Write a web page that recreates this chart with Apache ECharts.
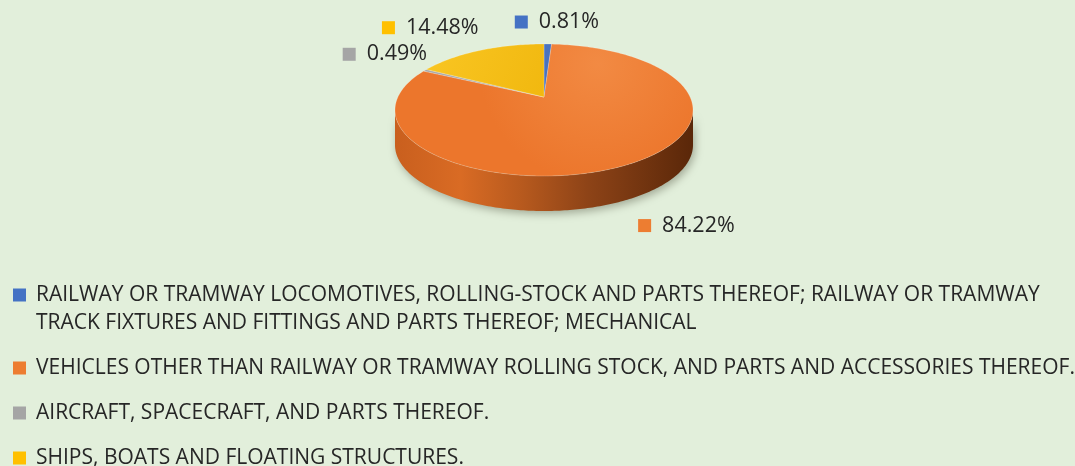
<!DOCTYPE html>
<html>
<head>
<meta charset="UTF-8">
<title>Pie</title>
<script src="https://cdn.jsdelivr.net/npm/echarts@6/dist/echarts.min.js"></script>
<style>
  html, body { margin: 0; padding: 0; background: #e2efdb; }
  #chart { width: 1075px; height: 466px; }
</style>
</head>
<body>
<div id="chart"></div>
<script>
// data
const categories = [
  'RAILWAY OR TRAMWAY LOCOMOTIVES, ROLLING-STOCK AND PARTS THEREOF; RAILWAY OR TRAMWAY\nTRACK FIXTURES AND FITTINGS AND PARTS THEREOF; MECHANICAL',
  'VEHICLES OTHER THAN RAILWAY OR TRAMWAY ROLLING STOCK, AND PARTS AND ACCESSORIES THEREOF.',
  'AIRCRAFT, SPACECRAFT, AND PARTS THEREOF.',
  'SHIPS, BOATS AND FLOATING STRUCTURES.'
];
const shares = [0.81, 84.22, 0.49, 14.48];
const colors = ['#4472c4', '#ed7d31', '#a5a5a5', '#ffc000'];

// pseudo-3D geometry (ellipse centre, radii, wall depth, apex lift for perspective)
const CX = 544, CY = 110, RX = 149, RY = 66, DEPTH = 35, APEX_DY = -13;
// label offset from rim midpoint: dx, dy, align
const labelOffset = [[-33, -22, 'left'], [30, 21, 'left'], [2, -16, 'right'], [0, -23, 'right']];

const total = shares.reduce((a, b) => a + b, 0);
const startPct = [];
let acc = 0;
shares.forEach(v => { startPct.push(acc); acc += v; });

function rim(deg, dy) {
  const r = deg * Math.PI / 180;
  return [CX + RX * Math.sin(r), CY - RY * Math.cos(r) + (dy || 0)];
}

function arc(a, b, dy) {
  const pts = [];
  if (a <= b) {
    for (let t = a; t < b; t += 1) pts.push(rim(t, dy));
  } else {
    for (let t = a; t > b; t -= 1) pts.push(rim(t, dy));
  }
  pts.push(rim(b, dy));
  return pts;
}

const topFill = [
  '#4a73be',
  { type: 'radial', x: 0.68, y: 0.15, r: 0.9, colorStops: [{ offset: 0, color: '#f28a43' }, { offset: 1, color: '#ec762c' }] },
  '#a9a9a9',
  { type: 'linear', x: 0, y: 0, x2: 1, y2: 1, colorStops: [{ offset: 0, color: '#f9c623' }, { offset: 1, color: '#f1b80f' }] }
];
const sideFill = { type: 'linear', x: 0, y: 0, x2: 1, y2: 0, colorStops: [
  { offset: 0, color: '#c95f1e' },
  { offset: 0.22, color: '#d96b24' },
  { offset: 0.42, color: '#b85a1e' },
  { offset: 0.65, color: '#8d4317' },
  { offset: 1, color: '#5a2709' }
] };

function renderItem(params, api) {
  const i = params.dataIndex;
  const a0 = startPct[i] / total * 360;
  const a1 = (startPct[i] + shares[i]) / total * 360;
  const children = [];

  // side wall (front half only)
  const s = Math.max(a0, 90), e = Math.min(a1, 270);
  if (s < e) {
    const pts = arc(s, e, 0).concat(arc(e, s, DEPTH));
    children.push({ type: 'polygon', z2: 1, shape: { points: pts },
      style: { fill: i === 1 ? sideFill : colors[i], shadowColor: 'rgba(40,40,20,0.35)', shadowBlur: 8, shadowOffsetY: 3, shadowOffsetX: 2 } });
  }

  // top face
  const top = [[CX, CY + APEX_DY]].concat(arc(a0, a1, 0));
  children.push({ type: 'polygon', z2: 10, shape: { points: top },
    style: { fill: topFill[i], stroke: 'rgba(255,255,255,0.35)', lineWidth: 0.6 } });

  // label
  const mid = (a0 + a1) / 2;
  const p = rim(mid, Math.cos(mid * Math.PI / 180) < 0 ? DEPTH : 0);
  const off = labelOffset[i];
  children.push({
    type: 'text', z2: 20,
    x: p[0] + off[0], y: p[1] + off[1],
    style: {
      text: '{m|}{t|' + shares[i].toFixed(2) + '%}',
      align: off[2], verticalAlign: 'middle',
      rich: {
        m: { width: 13, height: 13, backgroundColor: colors[i] },
        t: { fontFamily: 'Open Sans', fontSize: 21.5, fill: '#262626', padding: [0, 0, 0, 11] }
      }
    }
  });
  return { type: 'group', children: children };
}

const chart = echarts.init(document.getElementById('chart'));
chart.setOption({
  backgroundColor: '#e2efdb',
  animation: false,
  legend: {
    orient: 'vertical',
    left: 13,
    top: 253,
    padding: 0,
    itemGap: 17,
    itemWidth: 13,
    itemHeight: 13,
    icon: 'rect',
    selectedMode: false,
    data: categories,
    formatter: name => name.indexOf('\n') >= 0 ? '\n' + name : name,
    textStyle: { fontFamily: 'Open Sans', fontSize: 21, color: '#262626', lineHeight: 28, padding: [0, 0, 0, 5] }
  },
  series: [
    {
      type: 'custom',
      coordinateSystem: 'none',
      renderItem: renderItem,
      data: shares,
      silent: true
    },
    {
      // carries the legend colours
      type: 'pie',
      radius: [0, 0],
      center: [CX, CY],
      silent: true,
      label: { show: false },
      labelLine: { show: false },
      data: categories.map((n, i) => ({ name: n, value: shares[i], itemStyle: { color: colors[i] } }))
    }
  ]
});
</script>
</body>
</html>
